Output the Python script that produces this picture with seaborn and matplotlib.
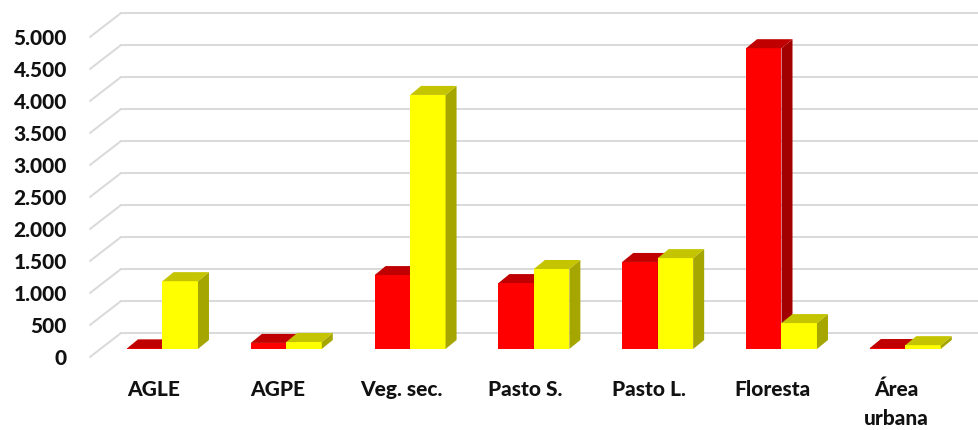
import numpy as np
import pandas as pd
import matplotlib
matplotlib.use("Agg")
import matplotlib.pyplot as plt
from matplotlib.patches import Polygon
from matplotlib.lines import Line2D
from matplotlib.transforms import ScaledTranslation
import seaborn as sns

# ---------------- data ----------------
categorias = ["AGLE", "AGPE", "Veg. sec.", "Pasto S.", "Pasto L.", "Floresta", "Área\nurbana"]
serie_1 = [10, 95, 1155, 1030, 1360, 4700, 15]       # red
serie_2 = [1060, 110, 3970, 1250, 1420, 405, 60]     # yellow
series = ["Série 1", "Série 2"]
y_ticks = list(range(0, 5001, 500))
y_labels = ["0", "500", "1.000", "1.500", "2.000", "2.500", "3.000", "3.500", "4.000", "4.500", "5.000"]

# ---------------- style ----------------
sns.set_theme(style="white")
plt.rcParams["font.family"] = ["Lato", "DejaVu Sans"]

front_cols = ["#FF0000", "#FFFF00"]
top_cols = ["#C00000", "#C4C400"]
side_cols = ["#A20000", "#A6A600"]
grid_col = "#D9D9D9"
text_col = "#111111"

W, H, DPI = 979, 430, 100
fig = plt.figure(figsize=(W / DPI, H / DPI), dpi=DPI)
fig.patch.set_facecolor("white")

# geometry in pixels
ax_left, ax_right = 121, 979
y0_pix, y5000_pix = 349, 29
ax = fig.add_axes([ax_left / W, (H - y0_pix) / H, (ax_right - ax_left) / W, (y0_pix - y5000_pix) / H])
ax.set_facecolor("none")

c0, step = 162.5, 123.8
xlim = ((ax_left - c0) / step, (ax_right - c0) / step)
ylim = (0, 5000)
px_x = 1.0 / step                       # data units per pixel in x
px_y = 5000.0 / (y0_pix - y5000_pix)    # data units per pixel in y

df = pd.DataFrame({
    "categoria": categorias * 2,
    "valor": serie_1 + serie_2,
    "serie": [series[0]] * len(categorias) + [series[1]] * len(categorias),
})

# back wall gridlines + slanted floor lines
back_dy = 16 * px_y
front_dx, front_dy = 31 * px_x, 8 * px_y
for v in y_ticks:
    ax.add_line(Line2D([xlim[0], xlim[1]], [v + back_dy, v + back_dy], color=grid_col,
                       lw=1.4, clip_on=False, zorder=0))
    ax.add_line(Line2D([xlim[0] - front_dx, xlim[0]], [v - front_dy, v + back_dy], color=grid_col,
                       lw=1.4, clip_on=False, zorder=0))

sns.barplot(data=df, x="categoria", y="valor", hue="serie", palette=front_cols,
            width=0.573, gap=0, saturation=1, legend=False, ax=ax, linewidth=0,
            err_kws={"linewidth": 0})

# 3D faces
dx, dy = 11 * px_x, 9 * px_y
for k, cont in enumerate(ax.containers):
    z = 2 + k
    for p in cont.patches:
        p.set_zorder(z)
        x0, w, h = p.get_x(), p.get_width(), p.get_height()
        top = Polygon([(x0, h), (x0 + w, h), (x0 + w + dx, h + dy), (x0 + dx, h + dy)],
                      closed=True, facecolor=top_cols[k], edgecolor="none", zorder=z, clip_on=False)
        side = Polygon([(x0 + w, 0), (x0 + w, h), (x0 + w + dx, h + dy), (x0 + w + dx, dy)],
                       closed=True, facecolor=side_cols[k], edgecolor="none", zorder=z, clip_on=False)
        ax.add_patch(side)
        ax.add_patch(top)

ax.set_xlim(*xlim)
ax.set_ylim(*ylim)
ax.set_xlabel("")
ax.set_ylabel("")
for s in ax.spines.values():
    s.set_visible(False)

fs = 15
ax.set_yticks(y_ticks)
ax.set_yticklabels(y_labels, fontsize=fs, fontweight=900, color=text_col)
ax.tick_params(axis="y", length=0, pad=(ax_left - 67) * 0.72)
ax.tick_params(axis="x", length=0, pad=31 * 0.72)
for lab in ax.get_xticklabels():
    lab.set_fontsize(fs)
    lab.set_fontweight(900)
    lab.set_color(text_col)
    lab.set_linespacing(1.6)
    lab.set_transform(lab.get_transform() + ScaledTranslation(-9 / DPI, 0, fig.dpi_scale_trans))
for lab in ax.get_yticklabels():
    lab.set_transform(lab.get_transform() + ScaledTranslation(0, -8 / DPI, fig.dpi_scale_trans))

fig.savefig("out.png", dpi=DPI, facecolor="white")
